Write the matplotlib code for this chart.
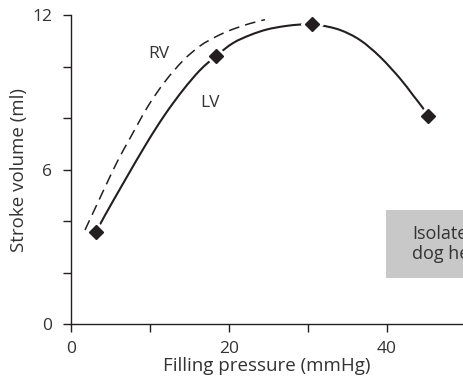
import matplotlib.pyplot as plt
from matplotlib.patches import Rectangle, PathPatch
from matplotlib.path import Path
from matplotlib.ticker import MultipleLocator

plt.rcParams['font.family'] = ['Open Sans', 'DejaVu Sans']

# LV curve (mmHg, ml)
lv_x = [3.20, 4.34, 6.87, 9.66, 11.94, 14.22, 16.37, 18.39, 20.54, 22.70, 24.85,
        27.13, 29.03, 30.55, 31.56, 34.09, 36.62, 39.15, 41.68, 43.33, 44.59, 45.23]
lv_y = [3.58, 4.23, 5.59, 7.05, 8.14, 9.09, 9.86, 10.41, 10.91, 11.22, 11.44,
        11.57, 11.63, 11.65, 11.61, 11.42, 11.03, 10.38, 9.54, 8.89, 8.39, 8.08]

# measured LV points (diamonds)
pts_x = [3.20, 18.39, 30.55, 45.23]
pts_y = [3.58, 10.41, 11.65, 8.08]

# RV curve (dashed)
rv_x = [1.81, 3.20, 4.59, 5.99, 7.51, 9.78, 11.94, 14.22, 16.37, 18.52, 20.54, 22.70, 24.59]
rv_y = [3.66, 4.57, 5.48, 6.37, 7.22, 8.46, 9.42, 10.23, 10.80, 11.18, 11.45, 11.67, 11.82]

ink = '#231f20'
txt = '#333333'


def smooth_path(xs, ys):
    # draw the read points as one smooth bezier path (catmull-rom handles)
    p = list(zip(xs, ys))
    p = [p[0]] + p + [p[-1]]
    verts = [p[1]]
    codes = [Path.MOVETO]
    for i in range(1, len(p) - 2):
        p0, p1, p2, p3 = p[i - 1], p[i], p[i + 1], p[i + 2]
        c1 = (p1[0] + (p2[0] - p0[0]) / 6, p1[1] + (p2[1] - p0[1]) / 6)
        c2 = (p2[0] - (p3[0] - p1[0]) / 6, p2[1] - (p3[1] - p1[1]) / 6)
        verts += [c1, c2, p2]
        codes += [Path.CURVE4] * 3
    return Path(verts, codes)


fig = plt.figure(figsize=(4.63, 3.89), dpi=100)
ax = fig.add_axes([0.1527, 0.1663, 0.8473, 0.7951])

ax.add_patch(PathPatch(smooth_path(rv_x, rv_y), fill=False, edgecolor=ink,
                       lw=1.1, linestyle=(0, (7, 4)), capstyle='butt'))
ax.add_patch(PathPatch(smooth_path(lv_x, lv_y), fill=False, edgecolor=ink, lw=1.5))
ax.plot(pts_x, pts_y, 'D', color='white', ms=11, zorder=3)
ax.plot(pts_x, pts_y, 'D', color=ink, ms=7.6, zorder=4)

ax.text(11.1, 10.5, 'RV', fontsize=12.5, color=txt, ha='center', va='center')
ax.text(17.6, 8.6, 'LV', fontsize=12.5, color=txt, ha='center', va='center')

# grey note box, runs off the right edge
ax.add_patch(Rectangle((39.9, 1.8), 15, 2.63, facecolor='#c8c8c8',
                       edgecolor='none', clip_on=False, zorder=1))
ax.text(43.2, 3.11, 'Isolated\ndog heart', fontsize=13, color=txt,
        ha='left', va='center', linespacing=1.1, clip_on=False, zorder=2)

ax.set_xlim(0, 49.66)
ax.set_ylim(0, 12)
ax.xaxis.set_major_locator(MultipleLocator(20))
ax.xaxis.set_minor_locator(MultipleLocator(10))
ax.yaxis.set_major_locator(MultipleLocator(6))
ax.yaxis.set_minor_locator(MultipleLocator(2))

for s in ['top', 'right']:
    ax.spines[s].set_visible(False)
for s in ['left', 'bottom']:
    ax.spines[s].set_color(ink)
    ax.spines[s].set_linewidth(1.0)

ax.tick_params(which='both', direction='out', length=5.8, width=1.0, color=ink)
ax.tick_params(which='major', labelsize=12.5, labelcolor=txt)
ax.tick_params(axis='x', pad=6)
ax.tick_params(axis='y', pad=7.5)

ax.set_xlabel('Filling pressure (mmHg)', fontsize=13.5, color=txt, labelpad=0)
ax.set_ylabel('Stroke volume (ml)', fontsize=13.5, color=txt, labelpad=3)

fig.savefig('out.png', dpi=100)
